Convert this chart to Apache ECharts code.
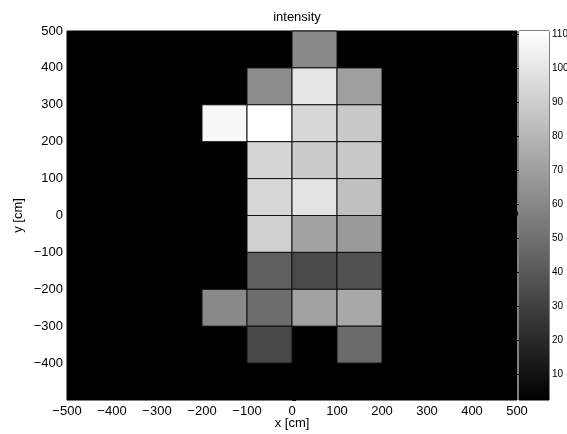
<!DOCTYPE html>
<html>
<head>
<meta charset="utf-8">
<script src="https://cdn.jsdelivr.net/npm/echarts@6/dist/echarts.min.js"></script>
<style>
  html,body{margin:0;padding:0;background:#fff;}
  #chart{width:567px;height:434px;}
</style>
</head>
<body>
<div id="chart"></div>
<script>
// cell centres [cm] and intensity values
const cellX = [50,
  -50, 50, 150,
  -150, -50, 50, 150,
  -50, 50, 150,
  -50, 50, 150,
  -50, 50, 150,
  -50, 50, 150,
  -150, -50, 50, 150,
  -50, 150];
const cellY = [450,
  350, 350, 350,
  250, 250, 250, 250,
  150, 150, 150,
  50, 50, 50,
  -50, -50, -50,
  -150, -150, -150,
  -250, -250, -250, -250,
  -350, -350];
const cellVal = [61,
  62, 100, 70,
  108, 111, 94, 88,
  93, 89, 88,
  94, 99, 84,
  91, 72, 68,
  43, 34, 37,
  61, 49, 71, 74,
  33, 48];
const cellSize = 100;
const cMin = 2.5, cMax = 111;
const axisTicks = [-500, -400, -300, -200, -100, 0, 100, 200, 300, 400, 500];
const barTicks = [10, 20, 30, 40, 50, 60, 70, 80, 90, 100, 110];

const font = 'Liberation Sans, Arial, sans-serif';
const minus = v => String(v).replace('-', '\u2212');

const chart = echarts.init(document.getElementById('chart'), null, {renderer: 'canvas'});

const cells = cellX.map((x, i) => [x, cellY[i], cellVal[i]]);

const option = {
  animation: false,
  backgroundColor: '#fff',
  title: {
    text: 'intensity', left: 292, top: 6, textAlign: 'center',
    textStyle: {fontFamily: font, fontSize: 13, fontWeight: 'normal', color: '#000'}
  },
  grid: [
    {left: 67, right: 50, top: 31, bottom: 34, outerBoundsMode: 'none', containLabel: false,
      show: true, backgroundColor: '#000', borderColor: '#000', borderWidth: 1},
    {left: 519, width: 30, top: 31, bottom: 34, outerBoundsMode: 'none', containLabel: false,
      show: true, backgroundColor: '#fff', borderColor: '#000', borderWidth: 1}
  ],
  visualMap: {
    show: false, type: 'continuous', min: cMin, max: cMax, dimension: 2,
    seriesIndex: 0, inRange: {color: ['#000000', '#ffffff']}
  },
  xAxis: [
    {
      type: 'value', gridIndex: 0, min: -500, max: 500, interval: 100,
      name: 'x [cm]', nameLocation: 'middle', nameGap: 17, nameMoveOverlap: false,
      nameTextStyle: {fontFamily: font, fontSize: 13, color: '#000'},
      axisLine: {show: false}, splitLine: {show: false},
      axisTick: {inside: true, length: 4, lineStyle: {color: '#000'}},
      axisLabel: {fontFamily: font, fontSize: 13, color: '#000', margin: 5, formatter: minus,
        customValues: axisTicks}
    },
    {type: 'value', gridIndex: 1, min: 0, max: 1, show: false}
  ],
  yAxis: [
    {
      type: 'value', gridIndex: 0, min: -500, max: 500, interval: 100,
      name: 'y [cm]', nameLocation: 'middle', nameGap: 42, nameRotate: 90, nameMoveOverlap: false,
      nameTextStyle: {fontFamily: font, fontSize: 13, color: '#000'},
      axisLine: {show: false}, splitLine: {show: false},
      axisTick: {inside: true, length: 4, lineStyle: {color: '#000'}},
      axisLabel: {fontFamily: font, fontSize: 13, color: '#000', margin: 4,
        formatter: v => v === -500 ? '' : minus(v)}
    },
    {
      type: 'value', gridIndex: 1, min: cMin, max: cMax, position: 'right',
      axisLine: {show: false}, splitLine: {show: false},
      axisTick: {inside: true, length: 3, lineStyle: {color: '#000'}, customValues: barTicks},
      axisLabel: {fontFamily: font, fontSize: 10, color: '#000', margin: 3, customValues: barTicks}
    },
    {
      type: 'value', gridIndex: 1, min: cMin, max: cMax, position: 'left',
      axisLine: {show: false}, splitLine: {show: false},
      axisTick: {inside: true, length: 3, lineStyle: {color: '#000'}, customValues: barTicks},
      axisLabel: {show: false}
    }
  ],
  series: [
    {
      type: 'custom', xAxisIndex: 0, yAxisIndex: 0, data: cells,
      renderItem: (params, api) => {
        const x = api.value(0), y = api.value(1);
        const p0 = api.coord([x - cellSize / 2, y + cellSize / 2]);
        const p1 = api.coord([x + cellSize / 2, y - cellSize / 2]);
        return {
          type: 'rect',
          shape: {x: p0[0], y: p0[1], width: p1[0] - p0[0], height: p1[1] - p0[1]},
          style: {fill: api.visual('color'), stroke: '#111', lineWidth: 1}
        };
      }
    },
    {
      type: 'custom', xAxisIndex: 1, yAxisIndex: 1, data: [[0, cMin, cMax]],
      renderItem: (params, api) => {
        const cs = params.coordSys;
        const top = api.coord([0, api.value(2)]);
        const bot = api.coord([0, api.value(1)]);
        return {
          type: 'rect',
          shape: {x: cs.x, y: top[1], width: cs.width, height: bot[1] - top[1]},
          style: {
            fill: new echarts.graphic.LinearGradient(0, 0, 0, 1, [
              {offset: 0, color: '#ffffff'}, {offset: 1, color: '#000000'}
            ])
          }
        };
      }
    }
  ]
};

chart.setOption(option);
</script>
</body>
</html>
